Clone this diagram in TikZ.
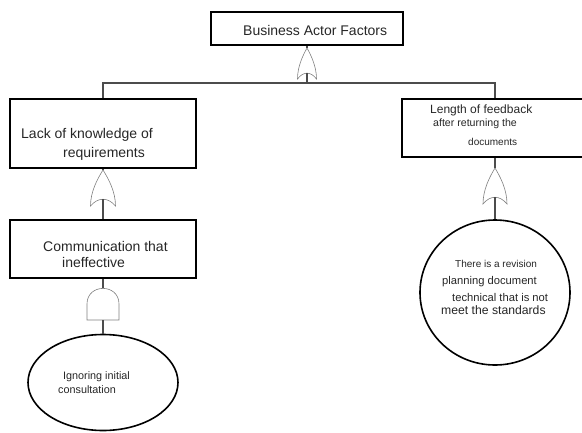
\documentclass[tikz,border=0pt]{standalone}
\usepackage{fontspec}
\setmainfont{Liberation Sans}
\usetikzlibrary{shapes.geometric}
\tikzset{
  eventbox/.style={draw, line width=1.8pt, inner sep=0pt},
  basicevent/.style={draw, ellipse, line width=1.6pt, inner sep=0pt},
  conn/.style={line width=1.1pt, black!70},
  gateline/.style={line width=0.6pt, black!50},
  lbl/.style={anchor=base west, inner sep=0pt, text=black!85},
  orgate/.pic={\draw[gateline] (-1,0) .. controls (-1,-0.4) and (-0.45,-0.75) .. (0,-1)
      .. controls (0.45,-0.75) and (1,-0.4) .. (1,0)
      .. controls (0.4,-0.25) and (-0.4,-0.25) .. (-1,0) -- cycle;},
  andgate/.pic={\draw[gateline] (-1,0) -- (-1,-0.5) .. controls (-1,-1.15) and (1,-1.15) .. (1,-0.5)
      -- (1,0) -- cycle;}
}
\begin{document}
\begin{tikzpicture}[x=1pt,y=-1pt]
  \useasboundingbox (0,0) rectangle (582,432);
  % events
  \node[eventbox, minimum width=192pt, minimum height=33pt] (top) at (307,28.5) {};
  \node[eventbox, minimum width=186pt, minimum height=69pt] (lackreq) at (103,133.5) {};
  \node[eventbox, minimum width=186pt, minimum height=58pt] (feedback) at (495,128) {};
  \node[eventbox, minimum width=186pt, minimum height=58pt] (commineff) at (103,249) {};
  \node[basicevent, minimum width=150pt, minimum height=96pt] (ignoring) at (103,382.5) {};
  \node[basicevent, minimum width=150pt, minimum height=145pt] (revision) at (495,292.5) {};
  % texts
  \node[lbl, font=\fontsize{14}{16}\selectfont] (ttop) at (243,35.5) {Business Actor Factors};
  \node[lbl, font=\fontsize{14}{16}\selectfont] (tlack1) at (21,138) {Lack of knowledge of};
  \node[lbl, font=\fontsize{14}{16}\selectfont] (tlack2) at (63,157) {requirements};
  \node[lbl, font=\fontsize{12}{14}\selectfont] (tfeed1) at (430,113.5) {Length of feedback};
  \node[lbl, font=\fontsize{10.6}{12}\selectfont] (tfeed2) at (433,126.5) {after returning the};
  \node[lbl, font=\fontsize{10}{12}\selectfont] (tfeed3) at (468,145) {documents};
  \node[lbl, font=\fontsize{14}{16}\selectfont] (tcomm1) at (43,251.5) {Communication that};
  \node[lbl, font=\fontsize{14}{16}\selectfont] (tcomm2) at (62,267) {ineffective};
  \node[lbl, font=\fontsize{10.8}{12}\selectfont] (tign1) at (63,379) {Ignoring initial};
  \node[lbl, font=\fontsize{10.8}{12}\selectfont] (tign2) at (58,393.5) {consultation};
  \node[lbl, font=\fontsize{10}{12}\selectfont] (trev1) at (455,267.5) {There is a revision};
  \node[lbl, font=\fontsize{11.2}{13}\selectfont] (trev2) at (442,284) {planning document};
  \node[lbl, font=\fontsize{11.2}{13}\selectfont] (trev3) at (452,301) {technical that is not};
  \node[lbl, font=\fontsize{12.2}{14}\selectfont] (trev4) at (441,314) {meet the standards};
  % gates
  \begin{scope}[shift={(307,79)}, x=9.5pt, y=-31pt] \pic {orgate}; \end{scope}
  \begin{scope}[shift={(103,206)}, x=12.5pt, y=-36pt] \pic {orgate}; \end{scope}
  \begin{scope}[shift={(103,320)}, x=16pt, y=-32pt] \pic {andgate}; \end{scope}
  \begin{scope}[shift={(495,204)}, x=12pt, y=-36pt] \pic {orgate}; \end{scope}
  \coordinate (g0t) at (307,48);
  \coordinate (g0b) at (307,73.4);
  \coordinate (bar) at (307,83);
  \coordinate (g1t) at (103,170);
  \coordinate (g1b) at (103,199.3);
  \coordinate (g2t) at (103,288);
  \coordinate (g2b) at (103,320);
  \coordinate (g3t) at (495,168);
  \coordinate (g3b) at (495,197.3);
  % connectors
  \draw[conn] (top.south) -- (g0t);
  \draw[conn] (g0b) -- (bar);
  \draw[conn] (lackreq.north) |- (bar) -| (feedback.north);
  \draw[conn] (lackreq.south) -- (g1t);
  \draw[conn] (g1b) -- (commineff.north);
  \draw[conn] (commineff.south) -- (g2t);
  \draw[conn] (g2b) -- (ignoring.north);
  \draw[conn] (feedback.south) -- (g3t);
  \draw[conn] (g3b) -- (revision.north);
\end{tikzpicture}
\end{document}
